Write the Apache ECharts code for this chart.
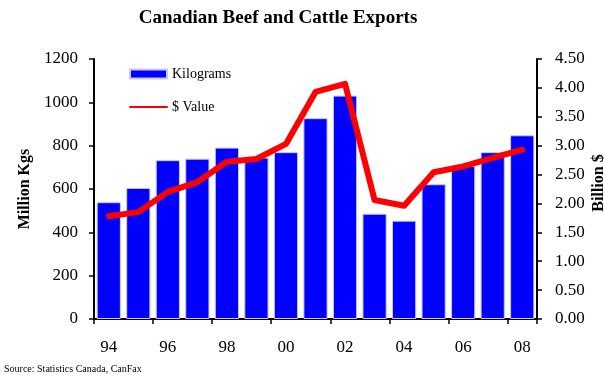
<!DOCTYPE html>
<html>
<head>
<meta charset="utf-8">
<script src="https://cdn.jsdelivr.net/npm/echarts@6/dist/echarts.min.js"></script>
<style>
  html, body { margin: 0; padding: 0; background: #ffffff; }
  #chart { width: 604px; height: 376px; }
</style>
</head>
<body>
<div id="chart"></div>
<script>
// Years (two-digit labels) and export figures
const years = ['94','95','96','97','98','99','00','01','02','03','04','05','06','07','08'];
const kilograms = [539, 605, 733, 740, 791, 745, 770, 927, 1031, 486, 454, 622, 707, 770, 848];
const dollarValue = [1.78, 1.85, 2.20, 2.37, 2.72, 2.77, 3.03, 3.93, 4.07, 2.06, 1.96, 2.54, 2.64, 2.79, 2.93];

const serif = '"Liberation Serif", "Times New Roman", serif';

const chart = echarts.init(document.getElementById('chart'), null, { renderer: 'canvas' });

chart.setOption({
  animation: false,
  backgroundColor: '#ffffff',
  textStyle: { fontFamily: serif, color: '#000' },
  title: {
    text: 'Canadian Beef and Cattle Exports',
    left: 278,
    textAlign: 'center',
    top: 9,
    padding: 0,
    textStyle: { fontFamily: serif, fontSize: 19, fontWeight: 'bold', color: '#000' }
  },
  graphic: [{
    type: 'text',
    left: 4,
    top: 364,
    style: { text: 'Source: Statistics Canada, CanFax', font: '10px ' + serif, fill: '#000' }
  }, {
    // right axis title, reading bottom to top, running off the page edge
    type: 'text',
    x: 599,
    y: 183,
    rotation: Math.PI / 2,
    style: {
      text: 'Billion $',
      font: 'bold 16px ' + serif,
      fill: '#000',
      align: 'center',
      verticalAlign: 'middle'
    }
  }],
  legend: {
    orient: 'vertical',
    left: 129,
    top: 67,
    padding: 0,
    itemWidth: 37,
    itemHeight: 9,
    itemGap: 19,
    textStyle: { fontFamily: serif, fontSize: 14, color: '#000' },
    data: [
      { name: 'Kilograms', icon: 'rect' },
      { name: '$ Value', lineStyle: { width: 2 }, itemStyle: { opacity: 0 } }
    ]
  },
  grid: { left: 94, right: 67, top: 59, bottom: 57, outerBoundsMode: 'none', containLabel: false },
  xAxis: {
    type: 'category',
    data: years,
    boundaryGap: true,
    axisLine: { lineStyle: { color: '#000', width: 2 } },
    axisTick: { show: true, length: 5, lineStyle: { color: '#000', width: 1.5 } },
    axisLabel: { interval: 1, fontFamily: serif, fontSize: 17, color: '#000', margin: 20 }
  },
  yAxis: [{
    type: 'value',
    min: 0,
    max: 1200,
    interval: 200,
    name: 'Million Kgs',
    nameLocation: 'middle',
    nameRotate: 90,
    nameGap: 56,
    nameTextStyle: { fontFamily: serif, fontSize: 16, fontWeight: 'bold', color: '#000' },
    axisLine: { show: true, lineStyle: { color: '#000', width: 2 } },
    axisTick: { show: true, length: 5, lineStyle: { color: '#000', width: 1.5 } },
    splitLine: { show: false },
    axisLabel: {
      fontFamily: serif, fontSize: 17, color: '#000', margin: 16,
      formatter: v => String(v)
    }
  }, {
    type: 'value',
    min: 0,
    max: 4.5,
    interval: 0.5,
    position: 'right',
    axisLine: { show: true, lineStyle: { color: '#000', width: 2 } },
    axisTick: { show: true, length: 5, lineStyle: { color: '#000', width: 1.5 } },
    splitLine: { show: false },
    axisLabel: {
      fontFamily: serif, fontSize: 17, color: '#000', margin: 18,
      formatter: v => v.toFixed(2)
    }
  }],
  series: [{
    name: 'Kilograms',
    type: 'bar',
    yAxisIndex: 0,
    data: kilograms,
    barCategoryGap: '18%',
    itemStyle: { color: '#0000ff', borderColor: '#c9c9ff', borderWidth: 1 }
  }, {
    name: '$ Value',
    type: 'line',
    yAxisIndex: 1,
    data: dollarValue,
    symbol: 'none',
    lineStyle: { color: '#ff0000', width: 6, join: 'round', cap: 'round' },
    itemStyle: { color: '#ff0000' }
  }]
});
</script>
</body>
</html>
